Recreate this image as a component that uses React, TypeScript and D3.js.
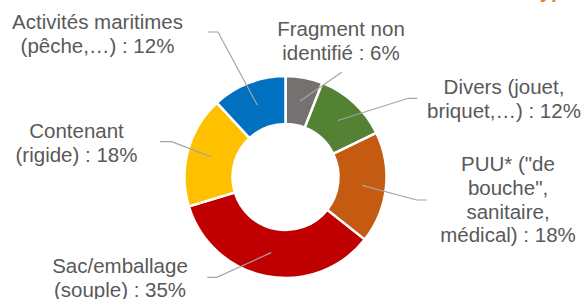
import * as d3 from "d3";
import React from "react";

// Parts of waste by type (%), clockwise from 12 o'clock
const categories = [
  "Fragment non identifié",
  "Divers",
  "PUU",
  "Sac/emballage",
  "Contenant",
  "Activités maritimes",
];
const shares = [6, 12, 18, 35, 18, 12];
const sliceColors = ["#767171", "#548235", "#C55A11", "#C00000", "#FFC000", "#0070C0"];
const labelLines = [
  ["Fragment non", "identifié"],
  ["Divers (jouet,", "briquet,…)"],
  ['PUU* ("de', 'bouche",', "sanitaire,", "médical)"],
  ["Sac/emballage", "(souple)"],
  ["Contenant", "(rigide)"],
  ["Activités maritimes", "(pêche,…)"],
];

// label placement (text centre x, first baseline y, elbow point, leader end x)
const labelLayout = [
  { x: 341, y: 36, elbow: [341.7, 72.3], endX: 341.7 },
  { x: 504, y: 94, elbow: [408.3, 98.3], endX: 417.3 },
  { x: 508, y: 171, elbow: [416.7, 200], endX: 426.7 },
  { x: 120, y: 273, elbow: [216.7, 277.3], endX: 207.3 },
  { x: 76.5, y: 138, elbow: [171.7, 141.7], endX: 160 },
  { x: 97.5, y: 29, elbow: [218, 32], endX: 208 },
];

const width = 585;
const height = 299;
const cx = 285.5;
const cy = 177;
const outerR = 101;
const innerR = 53;
const lineH = 23.8;

export default function App() {
  const pie = d3
    .pie<number>()
    .sort(null)
    .value((d) => d);
  const arcs = pie(shares);
  const arc = d3
    .arc<d3.PieArcDatum<number>>()
    .innerRadius(innerR)
    .outerRadius(outerR);
  const mid = d3
    .arc<d3.PieArcDatum<number>>()
    .innerRadius((innerR + outerR) / 2)
    .outerRadius((innerR + outerR) / 2);

  return (
    <svg
      width={width}
      height={height}
      style={{ position: "absolute", left: 0, top: 0, fontFamily: "'Liberation Sans', Arial, sans-serif" }}
    >
      <rect width={width} height={height} fill="#fff" />
      {/* cut-off title at the top right */}
      <text x={576} y={-2} textAnchor="end" fontSize={20} fontWeight="bold" fontStyle="italic" fill="#ED7D31">
        type
      </text>
      <g transform={`translate(${cx},${cy})`}>
        {arcs.map((a, i) => (
          <path key={categories[i]} d={arc(a) ?? ""} fill={sliceColors[i]} stroke="#fff" strokeWidth={2.5} />
        ))}
      </g>
      {arcs.map((a, i) => {
        const [px, py] = mid.centroid(a);
        const L = labelLayout[i];
        const pts: [number, number][] = [
          [cx + px, cy + py],
          [L.elbow[0], L.elbow[1]],
          [L.endX, L.elbow[1]],
        ];
        return (
          <path
            key={"l" + i}
            d={d3.line()(pts) ?? ""}
            fill="none"
            stroke="#A5A5A5"
            strokeWidth={1.2}
          />
        );
      })}
      {labelLines.map((lines, i) => {
        const L = labelLayout[i];
        return (
          <text key={"t" + i} x={L.x} y={L.y} textAnchor="middle" fontSize={20.5} fill="#595959">
            {lines.map((ln, j) => (
              <tspan key={j} x={L.x} y={L.y + j * lineH}>
                {j === lines.length - 1 ? `${ln} : ${shares[i]}%` : ln}
              </tspan>
            ))}
          </text>
        );
      })}
    </svg>
  );
}
